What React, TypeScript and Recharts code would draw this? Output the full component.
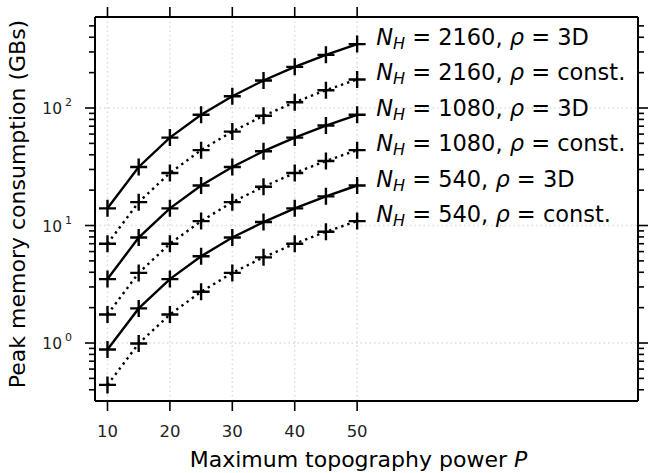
import { LineChart, Line, XAxis, YAxis, ReferenceLine, LabelList } from "recharts";

const powers = [10, 15, 20, 25, 30, 35, 40, 45, 50];

const nh2160_3d = [14, 31.5, 56, 87.5, 126, 171.5, 224, 283.5, 350];
const nh2160_const = [7, 15.8, 28, 43.8, 63, 85.8, 112, 141.8, 175];
const nh1080_3d = [3.5, 7.9, 14, 21.9, 31.5, 42.9, 56, 70.9, 87.5];
const nh1080_const = [1.75, 3.95, 7, 10.9, 15.8, 21.4, 28, 35.4, 43.8];
const nh540_3d = [0.88, 1.97, 3.5, 5.47, 7.9, 10.7, 14, 17.7, 21.9];
const nh540_const = [0.44, 0.99, 1.75, 2.73, 3.95, 5.36, 7, 8.86, 10.9];

const xTicks = [10, 20, 30, 40, 50];
const yMajor = [1, 10, 100];
const yMinor = [
  0.4, 0.5, 0.6, 0.7, 0.8, 0.9,
  2, 3, 4, 5, 6, 7, 8, 9,
  20, 30, 40, 50, 60, 70, 80, 90,
  200, 300, 400, 500,
];

const series = [
  { key: "s1", values: nh2160_3d, nh: "2160", rho: "3D", dotted: false },
  { key: "s2", values: nh2160_const, nh: "2160", rho: "const.", dotted: true },
  { key: "s3", values: nh1080_3d, nh: "1080", rho: "3D", dotted: false },
  { key: "s4", values: nh1080_const, nh: "1080", rho: "const.", dotted: true },
  { key: "s5", values: nh540_3d, nh: "540", rho: "3D", dotted: false },
  { key: "s6", values: nh540_const, nh: "540", rho: "const.", dotted: true },
];

const data = powers.map((p, i) => {
  const row: Record<string, number> = { p };
  series.forEach((s) => (row[s.key] = s.values[i]));
  return row;
});

const FONT = "DejaVu Sans";
const yTicks = [...yMinor, ...yMajor].sort((a, b) => a - b);

const Plus = (props: any) => {
  const { cx, cy } = props;
  if (cx == null || cy == null) return null;
  return (
    <path
      d={`M${cx - 8.5},${cy}h17M${cx},${cy - 8.5}v17`}
      stroke="#000"
      strokeWidth={2.4}
      fill="none"
    />
  );
};

const LeftTick = (props: any) => {
  const { x, y, payload } = props;
  const major = yMajor.includes(payload.value);
  const exp = Math.round(Math.log10(payload.value));
  return (
    <g>
      <line x1={x - (major ? 10 : 6)} x2={x} y1={y} y2={y} stroke="#000" strokeWidth={1.6} />
      {major && (
        <text x={x - 33} y={y + 6} textAnchor="end" fontSize={15.5} fontFamily={FONT} fill="#222">
          10
        </text>
      )}
      {major && (
        <text x={x - 23} y={y - 2} textAnchor="end" fontSize={11} fontFamily={FONT} fill="#222">
          {exp}
        </text>
      )}
    </g>
  );
};

const RightTick = (props: any) => {
  const { x, y, payload } = props;
  const major = yMajor.includes(payload.value);
  return <line x1={x} x2={x + (major ? 10 : 6)} y1={y} y2={y} stroke="#000" strokeWidth={1.6} />;
};

const BottomTick = (props: any) => {
  const { x, y, payload } = props;
  return (
    <g>
      <line x1={x} x2={x} y1={y} y2={y + 10} stroke="#000" strokeWidth={1.6} />
      <text x={x} y={y + 36} textAnchor="middle" fontSize={16.5} fontFamily={FONT} fill="#222">
        {payload.value}
      </text>
    </g>
  );
};

const TopTick = (props: any) => {
  const { x, y } = props;
  return <line x1={x} x2={x} y1={y - 10} y2={y} stroke="#000" strokeWidth={1.6} />;
};

const makeEndLabel = (s: (typeof series)[number]) => (props: any) => {
  const { x, y, value } = props;
  if (value !== s.values[s.values.length - 1]) return null;
  return (
    <text x={x + 19} y={y + 1} fontSize={22.5} fontFamily={FONT} fill="#000">
      <tspan fontStyle="italic">N</tspan>
      <tspan fontStyle="italic" fontSize={16} dy={4}>H</tspan>
      <tspan dy={-4}>{` = ${s.nh}, `}</tspan>
      <tspan fontStyle="italic">ρ</tspan>
      <tspan>{` = ${s.rho}`}</tspan>
    </text>
  );
};

const YLabel = (props: any) => {
  const vb = props.viewBox;
  const cx = vb.x + 25;
  const cy = 204;
  return (
    <text x={cx} y={cy} transform={`rotate(-90, ${cx}, ${cy})`} textAnchor="middle" fontSize={22} fontFamily={FONT} fill="#000">
      Peak memory consumption (GBs)
    </text>
  );
};

const XLabel = (props: any) => {
  const vb = props.viewBox;
  return (
    <text x={vb.x + vb.width / 2 - 8} y={vb.y + 66} textAnchor="middle" fontSize={22} fontFamily={FONT} fill="#000">
      Maximum topography power <tspan fontStyle="italic">P</tspan>
    </text>
  );
};

const axisLine = { stroke: "#000", strokeWidth: 2 };

export default function App() {
  return (
    <div style={{ position: "absolute", left: 0, top: 0, width: 648, height: 473, background: "#fff" }}>
      <LineChart width={648} height={473} data={data} margin={{ top: 0, right: 0, bottom: 0, left: 0 }}>
        <XAxis
          dataKey="p"
          type="number"
          domain={[8, 95]}
          ticks={xTicks}
          allowDataOverflow
          height={72}
          tickSize={0}
          tickMargin={0}
          tickLine={false}
          axisLine={axisLine}
          tick={<BottomTick />}
          label={<XLabel />}
        />
        <XAxis
          xAxisId="top"
          orientation="top"
          dataKey="p"
          type="number"
          domain={[8, 95]}
          ticks={xTicks}
          allowDataOverflow
          height={17}
          tickSize={0}
          tickMargin={0}
          tickLine={false}
          axisLine={axisLine}
          tick={<TopTick />}
        />
        <YAxis
          scale="log"
          type="number"
          domain={[0.321, 595]}
          ticks={yTicks}
          interval={0}
          allowDataOverflow
          width={95}
          tickSize={0}
          tickMargin={0}
          tickLine={false}
          axisLine={axisLine}
          tick={<LeftTick />}
          label={<YLabel />}
        />
        <YAxis
          yAxisId="right"
          orientation="right"
          scale="log"
          type="number"
          domain={[0.321, 595]}
          ticks={yTicks}
          interval={0}
          allowDataOverflow
          width={10}
          tickSize={0}
          tickMargin={0}
          tickLine={false}
          axisLine={axisLine}
          tick={<RightTick />}
        />
        {yMajor.map((v) => (
          <ReferenceLine key={`gy${v}`} y={v} stroke="#dcdcdc" strokeWidth={1.5} strokeDasharray="1.5 3" />
        ))}
        {xTicks.map((v) => (
          <ReferenceLine key={`gx${v}`} x={v} stroke="#dcdcdc" strokeWidth={1.5} strokeDasharray="1.5 3" />
        ))}
        {series.map((s) => (
          <Line
            key={s.key}
            dataKey={s.key}
            type="linear"
            stroke="#000"
            strokeWidth={2.4}
            strokeDasharray={s.dotted ? "2.4 4" : undefined}
            dot={<Plus />}
            activeDot={false}
            isAnimationActive={false}
          >
            <LabelList dataKey={s.key} content={makeEndLabel(s)} />
          </Line>
        ))}
      </LineChart>
    </div>
  );
}
